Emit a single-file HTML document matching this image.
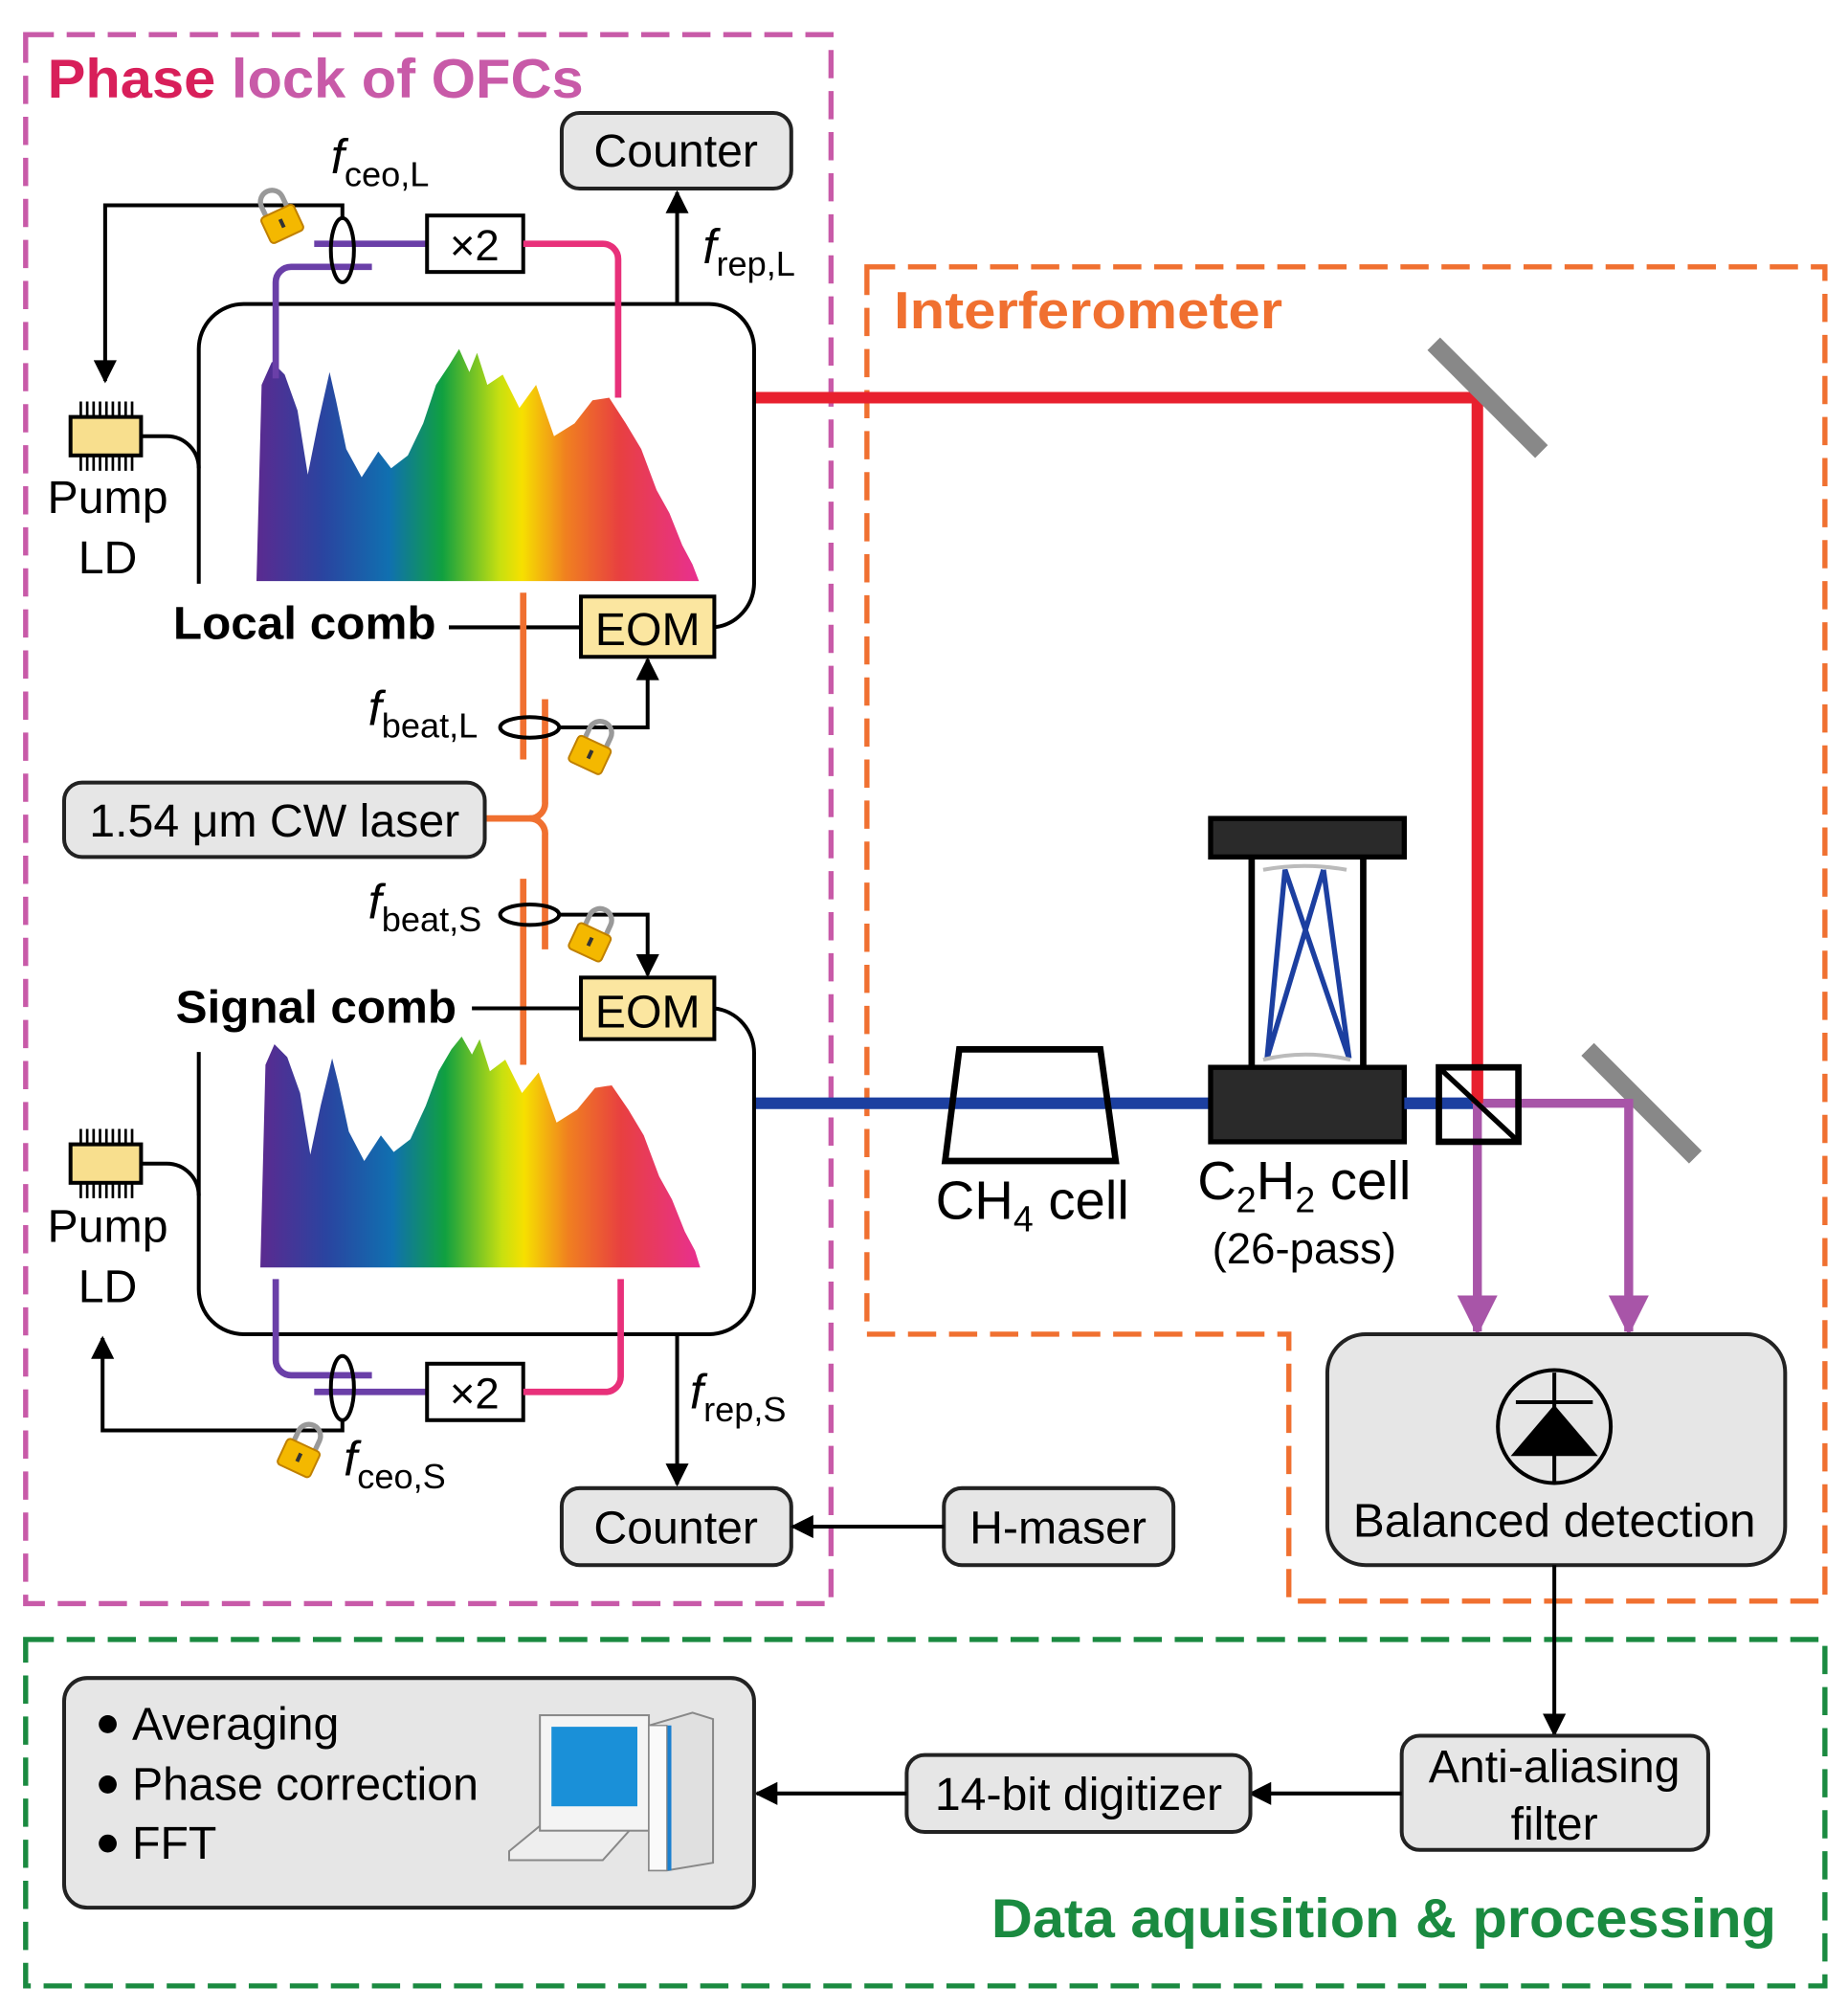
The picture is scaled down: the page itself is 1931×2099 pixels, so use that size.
<!DOCTYPE html>
<html><head><meta charset="utf-8"><style>
html,body{margin:0;padding:0;background:#fff;}
svg{display:block;}
text{font-family:"Liberation Sans",Arial,sans-serif;}
</style></head><body>
<svg width="1931" height="2099" viewBox="0 0 1441 1566" preserveAspectRatio="none" xmlns="http://www.w3.org/2000/svg">
<defs>
<linearGradient id="sp" x1="0" x2="1" y1="0" y2="0">
<stop offset="0" stop-color="#5b2a90"/>
<stop offset="0.15" stop-color="#2a44a0"/>
<stop offset="0.3" stop-color="#1070b0"/>
<stop offset="0.42" stop-color="#10a040"/>
<stop offset="0.55" stop-color="#c8e010"/>
<stop offset="0.6" stop-color="#f6e000"/>
<stop offset="0.7" stop-color="#f08020"/>
<stop offset="0.82" stop-color="#e84040"/>
<stop offset="1" stop-color="#e83090"/>
</linearGradient>
<marker id="ah" viewBox="0 0 10 10" refX="9" refY="5" markerWidth="6.5" markerHeight="6" orient="auto"><path d="M0,0 L10,5 L0,10 z" fill="#000"/></marker>
<marker id="ap" viewBox="0 0 10 10" refX="9" refY="5" markerWidth="4.5" markerHeight="4.5" orient="auto"><path d="M0,0 L10,5 L0,10 z" fill="#a855a8"/></marker>
<g id="lock">
<path d="M-9,-6 v-8 a9,9 0 0 1 18,0 v8" fill="none" stroke="#999" stroke-width="4"/>
<rect x="-14" y="-6" width="28" height="22" rx="3" fill="#f4b800" stroke="#c08000" stroke-width="1.5"/>
<rect x="-1.5" y="1" width="3" height="7" fill="#333"/>
</g>
<g id="chip">
<rect x="0" y="0" width="55" height="30" fill="#f8df8e" stroke="#000" stroke-width="3"/>
<g stroke="#000" stroke-width="2">
<path d="M8,0v-12M13,0v-12M18,0v-12M23,0v-12M28,0v-12M33,0v-12M38,0v-12M43,0v-12M48,0v-12"/>
<path d="M8,30v12M13,30v12M18,30v12M23,30v12M28,30v12M33,30v12M38,30v12M43,30v12M48,30v12"/>
</g>
</g>
</defs>

<!-- boxes -->
<rect x="20" y="27" width="628" height="1223" fill="none" stroke="#c85aa8" stroke-width="4" stroke-dasharray="22,10"/>
<path d="M676,208 H1423 V1248 H1005 V1040 H676 Z" fill="none" stroke="#f07030" stroke-width="4" stroke-dasharray="22,10"/>
<rect x="20" y="1278" width="1403" height="270" fill="none" stroke="#1a8a40" stroke-width="4" stroke-dasharray="22,10"/>

<text x="37" y="76" font-size="43" font-weight="bold" textLength="418" lengthAdjust="spacingAndGlyphs"><tspan fill="#d81f5a">Phase</tspan><tspan fill="#c85aa8"> lock of OFCs</tspan></text>
<text x="697" y="256" font-size="41" font-weight="bold" fill="#f07030" textLength="303" lengthAdjust="spacingAndGlyphs">Interferometer</text>
<text x="773" y="1510" font-size="43" font-weight="bold" fill="#1a8a40" textLength="612" lengthAdjust="spacingAndGlyphs">Data aquisition &amp; processing</text>

<!-- beams -->
<path d="M588,310 H1152 V860" fill="none" stroke="#e8202e" stroke-width="9"/>
<line x1="1118" y1="268" x2="1202" y2="352" stroke="#888" stroke-width="14"/>
<line x1="1238" y1="818" x2="1322" y2="902" stroke="#888" stroke-width="14"/>
<line x1="588" y1="860" x2="1152" y2="860" stroke="#1c3fa0" stroke-width="9"/>
<path d="M1152,860 H1270 V1038" fill="none" stroke="#a855a8" stroke-width="7" marker-end="url(#ap)"/>
<path d="M1152,860 V1038" fill="none" stroke="#a855a8" stroke-width="7" marker-end="url(#ap)"/>
<line x1="1152" y1="830" x2="1152" y2="860" stroke="#e8202e" stroke-width="9"/>

<!-- CH4 -->
<path d="M748,818 H858 L870,905 H737 Z" fill="none" stroke="#000" stroke-width="5"/>
<text x="805" y="950" font-size="42" text-anchor="middle">CH<tspan font-size="28" dy="10">4</tspan><tspan dy="-10"> cell</tspan></text>
<!-- C2H2 -->
<rect x="944" y="638" width="151" height="30" fill="#2a2a2a" stroke="#000" stroke-width="4"/>
<line x1="976" y1="668" x2="976" y2="832" stroke="#000" stroke-width="5"/>
<line x1="1063" y1="668" x2="1063" y2="832" stroke="#000" stroke-width="5"/>
<path d="M988,825 L1002,678 L1052,825 M1032,678 L988,825 M1032,678 L1052,825" fill="none" stroke="#1c3fa0" stroke-width="4"/>
<path d="M985,678 Q1017,672 1050,678 M985,826 Q1017,818 1053,826" fill="none" stroke="#bbb" stroke-width="3"/>
<rect x="944" y="832" width="151" height="58" fill="#2a2a2a" stroke="#000" stroke-width="4"/>
<line x1="1095" y1="860" x2="1122" y2="860" stroke="#1c3fa0" stroke-width="9"/>
<text x="1017" y="935" font-size="42" text-anchor="middle">C<tspan font-size="28" dy="10">2</tspan><tspan dy="-10">H</tspan><tspan font-size="28" dy="10">2</tspan><tspan dy="-10"> cell</tspan></text>
<text x="1017" y="985" font-size="34" text-anchor="middle">(26-pass)</text>
<!-- BS -->
<rect x="1122" y="832" width="62" height="58" fill="none" stroke="#000" stroke-width="5"/>
<line x1="1124" y1="834" x2="1182" y2="888" stroke="#000" stroke-width="4"/>

<!-- Balanced detection -->
<rect x="1035" y="1040" width="357" height="180" rx="30" fill="#e6e6e6" stroke="#222" stroke-width="3"/>
<ellipse cx="1212" cy="1112" rx="44" ry="44" fill="none" stroke="#000" stroke-width="3"/>
<line x1="1212" y1="1070" x2="1212" y2="1156" stroke="#000" stroke-width="3"/>
<line x1="1182" y1="1093" x2="1242" y2="1093" stroke="#000" stroke-width="3"/>
<path d="M1212,1095 L1246,1135 H1178 Z" fill="#000"/>
<text x="1212" y="1198" font-size="37" text-anchor="middle" textLength="314" lengthAdjust="spacingAndGlyphs">Balanced detection</text>
<line x1="1212" y1="1220" x2="1212" y2="1352" stroke="#000" stroke-width="3" marker-end="url(#ah)"/>

<!-- Data acq -->
<rect x="1093" y="1353" width="239" height="89" rx="14" fill="#e6e6e6" stroke="#222" stroke-width="3"/>
<text x="1212" y="1389" font-size="36" text-anchor="middle">Anti-aliasing</text>
<text x="1212" y="1434" font-size="36" text-anchor="middle">filter</text>
<line x1="1093" y1="1398" x2="975" y2="1398" stroke="#000" stroke-width="3" marker-end="url(#ah)"/>
<rect x="707" y="1368" width="268" height="60" rx="14" fill="#e6e6e6" stroke="#222" stroke-width="3"/>
<text x="841" y="1411" font-size="36" text-anchor="middle">14-bit digitizer</text>
<line x1="707" y1="1398" x2="590" y2="1398" stroke="#000" stroke-width="3" marker-end="url(#ah)"/>
<rect x="50" y="1308" width="538" height="179" rx="18" fill="#e6e6e6" stroke="#222" stroke-width="3"/>
<g font-size="36"><circle cx="84" cy="1344" r="7"/><text x="103" y="1356">Averaging</text>
<circle cx="84" cy="1391" r="7"/><text x="103" y="1403">Phase correction</text>
<circle cx="84" cy="1437" r="7"/><text x="103" y="1449">FFT</text></g>
<!-- computer -->
<path d="M397,1443 L425,1420 H497 L470,1450 H397 Z" fill="#eee" stroke="#888" stroke-width="1.5"/>
<rect x="421" y="1337" width="85" height="90" fill="#f4f4f4" stroke="#888" stroke-width="1.5"/>
<rect x="430" y="1346" width="67" height="62" fill="#1a90d8"/>
<path d="M506,1345 L540,1335 L556,1340 V1452 L520,1458 H506 Z" fill="#e0e0e0" stroke="#888" stroke-width="1.5"/>
<rect x="506" y="1345" width="14" height="113" fill="#fafafa" stroke="#888" stroke-width="1"/>
<line x1="522" y1="1345" x2="522" y2="1458" stroke="#1a80d0" stroke-width="3"/>

<!-- counters -->
<rect x="438" y="88" width="179" height="59" rx="14" fill="#e6e6e6" stroke="#222" stroke-width="3"/>
<text x="527" y="130" font-size="36" text-anchor="middle">Counter</text>
<rect x="438" y="1160" width="179" height="60" rx="14" fill="#e6e6e6" stroke="#222" stroke-width="3"/>
<text x="527" y="1203" font-size="36" text-anchor="middle">Counter</text>
<rect x="736" y="1160" width="179" height="60" rx="14" fill="#e6e6e6" stroke="#222" stroke-width="3"/>
<text x="825" y="1203" font-size="36" text-anchor="middle">H-maser</text>
<line x1="736" y1="1190" x2="618" y2="1190" stroke="#000" stroke-width="3" marker-end="url(#ah)"/>

<!-- Local comb -->
<path d="M155,455 V272 a35,35 0 0 1 35,-35 H553 a35,35 0 0 1 35,35 V455 a35,35 0 0 1 -31,34" fill="none" stroke="#000" stroke-width="3"/>
<line x1="528" y1="237" x2="528" y2="150" stroke="#000" stroke-width="3" marker-end="url(#ah)"/>
<text x="548" y="205" font-size="38" font-style="italic">f<tspan font-size="27" font-style="normal" dy="10">rep,L</tspan></text>
<path d="M200,453 L204,300 L212,282 L222,292 L232,320 L240,370 L248,330 L257,290 L262,312 L270,350 L282,372 L295,352 L305,365 L318,355 L330,330 L340,300 L350,285 L358,272 L366,290 L372,275 L380,300 L392,292 L405,318 L418,300 L432,340 L448,330 L462,312 L475,310 L488,330 L500,350 L512,382 L522,400 L532,425 L540,440 L545,453 Z" fill="url(#sp)"/>
<path d="M215,295 V220 a12,12 0 0 1 12,-12 H290" fill="none" stroke="#6a3fa8" stroke-width="5"/>
<line x1="245" y1="190" x2="333" y2="190" stroke="#6a3fa8" stroke-width="5"/>
<rect x="333" y="168" width="75" height="44" fill="#fff" stroke="#000" stroke-width="3"/>
<text x="370" y="203" font-size="34" text-anchor="middle">×2</text>
<path d="M408,190 H470 a12,12 0 0 1 12,12 V310" fill="none" stroke="#e8307a" stroke-width="5"/>
<ellipse cx="267" cy="195" rx="9" ry="25" fill="none" stroke="#000" stroke-width="3"/>
<path d="M267,170 V160 H82 V297" fill="none" stroke="#000" stroke-width="3" marker-end="url(#ah)"/>
<use href="#lock" transform="translate(218,170) rotate(-25)"/>
<text x="258" y="135" font-size="38" font-style="italic">f<tspan font-size="27" font-style="normal" dy="10">ceo,L</tspan></text>
<use href="#chip" transform="translate(55,325)"/>
<path d="M110,340 H130 a25,25 0 0 1 25,25" fill="none" stroke="#000" stroke-width="3"/>
<text x="84" y="400" font-size="36" text-anchor="middle">Pump</text>
<text x="84" y="447" font-size="36" text-anchor="middle">LD</text>
<text x="135" y="498" font-size="36" font-weight="bold" textLength="205" lengthAdjust="spacingAndGlyphs">Local comb</text>
<line x1="350" y1="489" x2="453" y2="489" stroke="#000" stroke-width="3"/>
<rect x="453" y="465" width="104" height="47" fill="#fbe6a0" stroke="#000" stroke-width="3"/>
<text x="505" y="503" font-size="36" text-anchor="middle">EOM</text>

<!-- orange fibers -->
<g stroke="#f07030" stroke-width="5" fill="none">
<line x1="408" y1="462" x2="408" y2="592"/>
<path d="M425,545 V625 a12,12 0 0 1 -12,13 H378"/>
<path d="M413,638 a12,12 0 0 1 12,13 V740"/>
<line x1="408" y1="685" x2="408" y2="830"/>
</g>
<ellipse cx="413" cy="567" rx="23" ry="8" fill="none" stroke="#000" stroke-width="3"/>
<path d="M436,567 H505 V514" fill="none" stroke="#000" stroke-width="3" marker-end="url(#ah)"/>
<use href="#lock" transform="translate(462,584) rotate(25)"/>
<text x="287" y="565" font-size="38" font-style="italic">f<tspan font-size="27" font-style="normal" dy="10">beat,L</tspan></text>
<rect x="50" y="610" width="328" height="58" rx="14" fill="#e6e6e6" stroke="#222" stroke-width="3"/>
<text x="214" y="652" font-size="36" text-anchor="middle">1.54 μm CW laser</text>
<ellipse cx="413" cy="713" rx="23" ry="8" fill="none" stroke="#000" stroke-width="3"/>
<path d="M436,713 H505 V760" fill="none" stroke="#000" stroke-width="3" marker-end="url(#ah)"/>
<use href="#lock" transform="translate(462,730) rotate(25)"/>
<text x="287" y="716" font-size="38" font-style="italic">f<tspan font-size="27" font-style="normal" dy="10">beat,S</tspan></text>

<!-- Signal comb -->
<text x="137" y="797" font-size="36" font-weight="bold" textLength="219" lengthAdjust="spacingAndGlyphs">Signal comb</text>
<line x1="368" y1="786" x2="453" y2="786" stroke="#000" stroke-width="3"/>
<rect x="453" y="762" width="104" height="48" fill="#fbe6a0" stroke="#000" stroke-width="3"/>
<text x="505" y="801" font-size="36" text-anchor="middle">EOM</text>
<path d="M155,820 V1005 a35,35 0 0 0 35,35 H553 a35,35 0 0 0 35,-35 V822 a35,35 0 0 0 -31,-36" fill="none" stroke="#000" stroke-width="3"/>
<path d="M203,988 L207,830 L214,814 L224,824 L234,852 L242,900 L250,862 L259,825 L264,845 L272,882 L284,905 L297,885 L307,898 L320,888 L332,862 L342,835 L352,818 L360,808 L368,822 L374,810 L382,835 L394,826 L407,852 L420,836 L434,875 L450,865 L464,848 L477,846 L490,865 L502,885 L514,917 L524,935 L534,960 L542,975 L546,988 Z" fill="url(#sp)"/>
<use href="#chip" transform="translate(55,892)"/>
<path d="M110,907 H130 a25,25 0 0 1 25,25" fill="none" stroke="#000" stroke-width="3"/>
<text x="84" y="968" font-size="36" text-anchor="middle">Pump</text>
<text x="84" y="1015" font-size="36" text-anchor="middle">LD</text>
<path d="M215,997 V1060 a12,12 0 0 0 12,12 H290" fill="none" stroke="#6a3fa8" stroke-width="5"/>
<line x1="245" y1="1085" x2="333" y2="1085" stroke="#6a3fa8" stroke-width="5"/>
<rect x="333" y="1063" width="75" height="44" fill="#fff" stroke="#000" stroke-width="3"/>
<text x="370" y="1098" font-size="34" text-anchor="middle">×2</text>
<path d="M408,1085 H472 a12,12 0 0 0 12,-12 V997" fill="none" stroke="#e8307a" stroke-width="5"/>
<ellipse cx="267" cy="1082" rx="9" ry="25" fill="none" stroke="#000" stroke-width="3"/>
<path d="M267,1107 V1115 H80 V1043" fill="none" stroke="#000" stroke-width="3" marker-end="url(#ah)"/>
<use href="#lock" transform="translate(235,1132) rotate(25)"/>
<text x="268" y="1150" font-size="38" font-style="italic">f<tspan font-size="27" font-style="normal" dy="10">ceo,S</tspan></text>
<line x1="528" y1="1040" x2="528" y2="1157" stroke="#000" stroke-width="3" marker-end="url(#ah)"/>
<text x="538" y="1098" font-size="38" font-style="italic">f<tspan font-size="27" font-style="normal" dy="10">rep,S</tspan></text>
</svg>
</body></html>
